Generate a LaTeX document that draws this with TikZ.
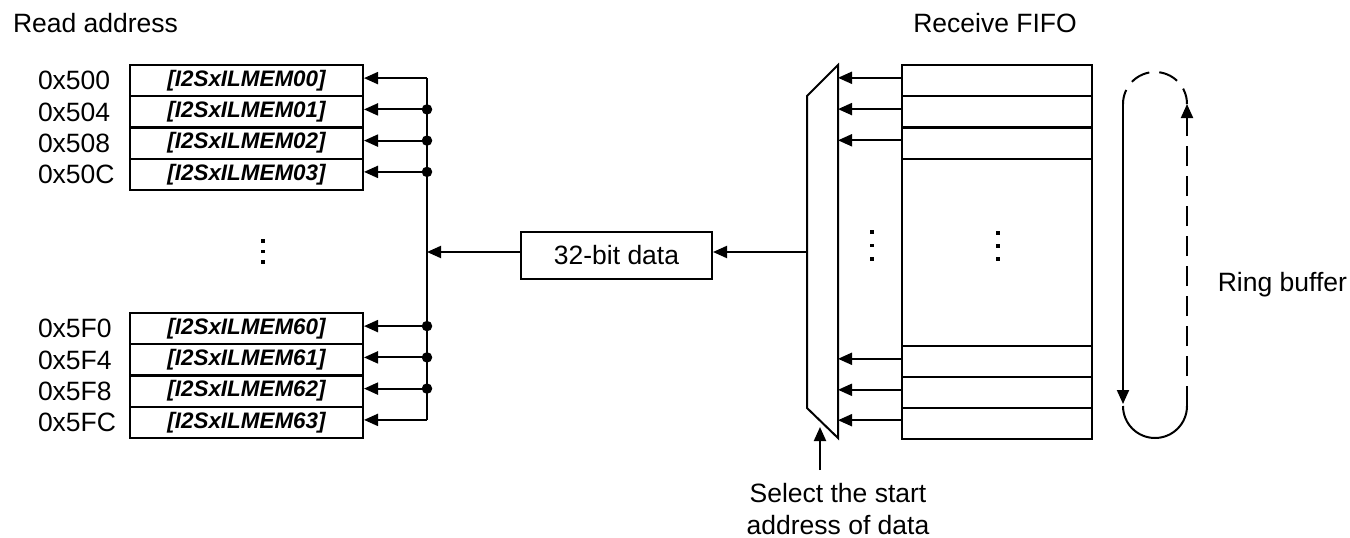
\documentclass[tikz,border=0pt]{standalone}
\usepackage{fontspec}
\setmainfont{Liberation Sans}
\usetikzlibrary{arrows.meta,calc}
\begin{document}
\begin{tikzpicture}[x=1pt,y=-1pt,line width=2pt,
  arr/.style={-{Triangle[length=14pt,width=12pt]}},
  lbl/.style={font=\fontsize{26.5}{32}\selectfont,inner sep=0pt},
  reg/.style={draw,minimum width=233pt,minimum height=31.25pt,inner sep=0pt,
    font=\fontsize{22.4}{26}\selectfont\bfseries\itshape},
  cell/.style={draw,minimum width=190pt,inner sep=0pt},
  junc/.style={circle,fill,inner sep=0pt,minimum size=10.5pt},
  vdot/.style={fill,minimum size=3.8pt,inner sep=0pt},
  ringdash/.style={dash pattern=on 20pt off 10pt}]
\useasboundingbox (0,0) rectangle (1350,538);

% titles
\node[lbl,anchor=west] (ttlRead) at (12,23) {Read address};
\node[lbl] (ttlFifo) at (995,23) {Receive FIFO};

% register window: address labels, register boxes and bus taps
\foreach \i/\a/\y in {00/0x500/80.6, 01/0x504/111.9, 02/0x508/143.1, 03/0x50C/174.4,
                      60/0x5F0/328.6, 61/0x5F4/359.9, 62/0x5F8/391.1, 63/0x5FC/422.4}{
  \node[reg] (m\i) at (246.5,\y) {[I2SxILMEM\i]};
  \node[lbl,anchor=west] (a\i) at (37,\y) {\a};
  \coordinate (j\i) at (427,\y-2.5);
}

% vertical dots between the register groups
\node[vdot] (ld1) at (263,241) {};
\node[vdot] (ld2) at (263,251.5) {};
\node[vdot] (ld3) at (263,262) {};

% read bus
\draw (j00) -- (j63);
\foreach \i in {00,01,02,03,60,61,62,63}{
  \draw[arr] (j\i) -- (j\i -| m\i.east);
}
\foreach \i in {01,02,03,60,61,62}{
  \node[junc] (d\i) at (j\i) {};
}

% 32-bit data latch
\node[draw,lbl,minimum width=191pt,minimum height=47pt] (data) at (616.5,255.5) {32-bit data};
\coordinate (busIn) at (427,252);
\coordinate (muxOut) at (807,252);
\draw[arr] (data.west |- busIn) -- (busIn);
\draw[arr] (muxOut) -- (muxOut -| data.east);

% selector
\coordinate (muxTL) at (807,96);
\coordinate (muxTR) at (838,65);
\coordinate (muxBR) at (838,438);
\coordinate (muxBL) at (807,408);
\draw[line join=miter] (muxTL) -- (muxTR) -- (muxBR) -- (muxBL) -- cycle;

% receive FIFO
\node[cell,minimum height=31.25pt] (f0) at (997,80.6) {};
\node[cell,minimum height=31.25pt] (f1) at (997,111.9) {};
\node[cell,minimum height=31.25pt] (f2) at (997,143.1) {};
\node[cell,minimum height=187pt] (fmid) at (997,252.2) {};
\node[cell,minimum height=31pt] (f3) at (997,361.6) {};
\node[cell,minimum height=31pt] (f4) at (997,392.6) {};
\node[cell,minimum height=31pt] (f5) at (997,423) {};
\foreach \k in {0,...,5}{
  \draw[arr] ([yshift=2.8pt]f\k.west) -- ([yshift=2.8pt]f\k.west -| muxTR);
}
\node[vdot] (fd1) at (872,232) {};
\node[vdot] (fd2) at (872,245.5) {};
\node[vdot] (fd3) at (872,259) {};
\node[vdot] (fd4) at (998,233) {};
\node[vdot] (fd5) at (998,246) {};
\node[vdot] (fd6) at (998,259) {};

% start-address selection
\node[lbl,align=center] (sel) at (838,509) {Select the start\\address of data};
\coordinate (selTop) at (820,470);
\coordinate (muxSel) at (820,427);
\draw[arr] (selTop) -- (muxSel);

% ring buffer loop
\coordinate (rl1) at (1123,104);
\coordinate (rl2) at (1123,404);
\coordinate (rb) at (1123,406);
\coordinate (rr1) at (1187,406);
\coordinate (rr2) at (1187,104);
\draw[arr] (rl1) -- (rl2);
\draw (rb) arc[start angle=180,end angle=0,radius=32];
\draw[arr,ringdash] (rr1) -- (rr2);
\draw[ringdash,dash phase=4pt] (rr2) arc[start angle=360,end angle=180,radius=32];
\node[lbl,anchor=east] (ring) at (1348,285) {Ring buffer};
\end{tikzpicture}
\end{document}
